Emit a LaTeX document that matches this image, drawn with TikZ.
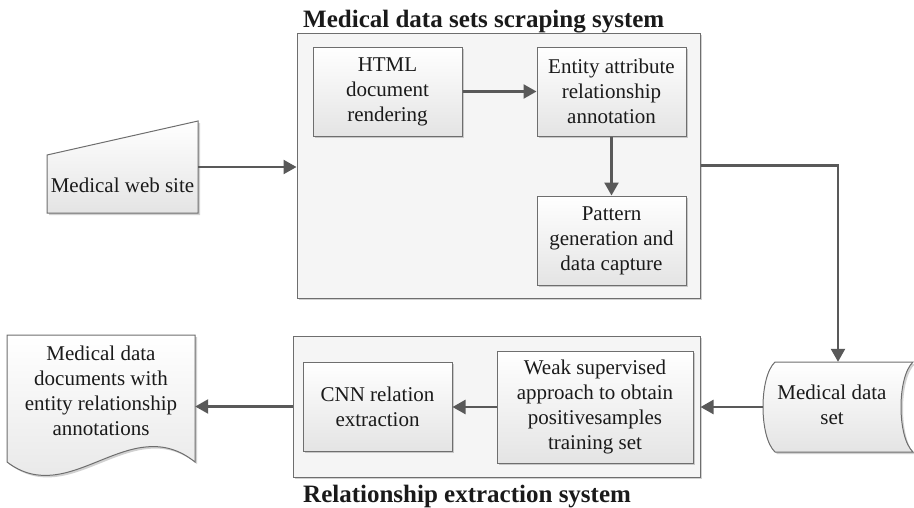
\documentclass[tikz,border=0pt]{standalone}
\usepackage{fontspec}
\setmainfont{Liberation Serif}
\usetikzlibrary{arrows.meta,shadows}

\definecolor{edge}{HTML}{6E6E6E}
\definecolor{arrowc}{HTML}{595959}
\definecolor{boxbot}{HTML}{E4E4E4}
\definecolor{groupfill}{HTML}{F5F5F5}
\definecolor{txt}{HTML}{1A1A1A}

\tikzset{
  shade/.style={drop shadow={shadow xshift=2pt,shadow yshift=-2pt,fill=black,opacity=0.18}},
  procbox/.style={rectangle, draw=edge, line width=1pt, top color=white, bottom color=boxbot,
    shade, align=center, inner sep=0pt, text=txt, font=\fontsize{21}{25}\selectfont},
  groupbox/.style={rectangle, draw=edge, line width=1pt, fill=groupfill, shade, inner sep=0pt},
  shapepath/.style={draw=edge, line width=1pt, top color=white, bottom color=boxbot, shade},
  holder/.style={rectangle, inner sep=0pt},
  label/.style={align=center, inner sep=0pt, text=txt, font=\fontsize{21}{25}\selectfont},
  title/.style={inner sep=0pt, text=txt, font=\fontsize{25}{30}\selectfont\bfseries, anchor=base west},
  flow/.style={draw=arrowc, line width=2.4pt, -{Triangle[length=13pt,width=14pt]}},
}

\begin{document}
\begin{tikzpicture}[x=1pt,y=-1pt]
\useasboundingbox (0,0) rectangle (914,507);

% group frames
\node[groupbox, minimum width=403pt, minimum height=265pt] (scrape) at (498.5,165.5) {};
\node[groupbox, minimum width=407pt, minimum height=141pt] (rel) at (496.5,406.5) {};
\node[title] (scrapetitle) at (303,27) {Medical data sets scraping system};
\node[title] (reltitle) at (303,502) {Relationship extraction system};

% scraping steps
\node[procbox, minimum width=149pt, minimum height=89pt] (html) at (387.5,91.5) {HTML\\document\\rendering};
\node[procbox, minimum width=149pt, minimum height=89pt] (entity) at (611.5,91.5) {Entity attribute\\relationship\\annotation};
\node[procbox, minimum width=149pt, minimum height=89pt] (pattern) at (611.5,240.5) {Pattern\\generation and\\data capture};

% extraction steps
\node[procbox, minimum width=149pt, minimum height=89pt] (cnn) at (377.5,406.5) {CNN relation\\extraction};
\node[procbox, minimum width=196pt, minimum height=112pt] (weak) at (595,407) {Weak supervised\\approach to obtain\\positivesamples\\training set};

% manual input: web site
\path[shapepath] (47,213) -- (198,213) -- (198,121) -- (47,155) -- cycle;
\node[holder, minimum width=151pt, minimum height=92pt] (web) at (122.5,167) {};
\node[label] (webtext) at (122.5,185) {Medical web site};

% stored data: data set
\path[shapepath] (775,362) -- (913,362) .. controls (897,377) and (897,437) .. (913,452)
  -- (775,452) .. controls (759,437) and (759,377) .. (775,362) -- cycle;
\node[holder, minimum width=150pt, minimum height=90pt] (data) at (838,407) {};
\node[label] (datatext) at (832,405) {Medical data\\set};

% document: annotated output
\path[shapepath] (7,335) -- (195,335) -- (195,462)
  .. controls (130,410) and (70,510) .. (7,462) -- cycle;
\node[holder, minimum width=188pt, minimum height=142pt] (doc) at (101,406) {};
\node[label] (doctext) at (101,390.5) {Medical data\\documents with\\entity relationship\\annotations};

% connectors
\draw[flow] (web.east) -- (web.east -| scrape.west);
\draw[flow] (html.east) -- (entity.west);
\draw[flow] (entity.south) -- (pattern.north);
\draw[flow] (scrape.east) -| (data.north);
\draw[flow] (data.west) -- (data.west -| rel.east);
\draw[flow] (weak.west) -- (weak.west -| cnn.east);
\draw[flow] (rel.west) -- (rel.west -| doc.east);
\end{tikzpicture}
\end{document}
